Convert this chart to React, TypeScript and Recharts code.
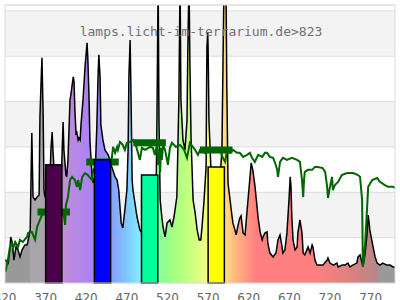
import React from 'react';
import {
  ComposedChart,
  Area,
  Line,
  XAxis,
  YAxis,
  CartesianGrid,
  ReferenceArea,
  ReferenceLine,
} from 'recharts';

// Lamp emission spectrum: [wavelength nm, relative intensity]
const spectrumPoints: [number, number][] = [
  [320, 9.3], [321, 10.1], [324, 8.8], [326, 14.6], [327, 20.3], [329, 17.6], [331, 10.1], [333.5, 15.9],
  [336, 14.6], [338.5, 11.5], [341, 14.6], [344.5, 16.8], [347, 16.8], [348, 18.1], [351, 23.4], [352, 45.4],
  [353, 66.2], [354.5, 37.9], [357, 36.6], [359.5, 37.9], [362, 38.8], [363, 73.2], [364.5, 89.6], [365.5, 99.3],
  [367, 73.2], [368, 41], [369, 37.9], [372, 41], [375.5, 47.6], [376.5, 58.7], [378, 66.6], [379, 58.7],
  [381.5, 43.2], [385, 36.6], [388, 38.8], [390, 54.3], [391.5, 71], [392.5, 58.7], [395, 47.6], [396, 46.8],
  [397.5, 54.3], [400, 80.7], [401, 82.9], [404, 90.9], [405, 88.7], [406, 76.3], [407.5, 65.3], [408.5, 66.2],
  [410, 63.1], [411, 64], [412.5, 63.1], [413.5, 69.7], [416, 80.7], [418.5, 95.3], [421, 105.9], [422, 98.4],
  [423.5, 80.7], [424.5, 63.1], [427, 47.6], [428.5, 44.1], [431, 47.6], [432, 58.7], [433, 68.8], [434.5, 90.9],
  [435.5, 100.6], [437, 90.9], [438, 69.7], [440.5, 63.1], [443, 58.7], [447, 56.5], [449, 54.3], [451.5, 51.2],
  [455.5, 46.8], [458, 45.4], [460, 41], [461.5, 33.5], [463, 26.5], [465, 24.3], [467.5, 32.2], [470, 41],
  [471.5, 58.7], [472.5, 90.9], [474, 107.2], [475, 85.2], [476.5, 45.4], [477.5, 41], [482.5, 29.1], [486, 23.4],
  [490, 21.2], [495, 25.6], [498.5, 30], [502, 32.2], [506, 41], [507, 71.9], [508.5, 133.7], [509.5, 71.9],
  [511, 36.6], [513, 29.1], [514.5, 24.7], [517, 20.3], [519.5, 26.5], [523, 27.8], [525.5, 24.7], [528, 29.1],
  [531.5, 37.9], [534, 80.7], [535.5, 133.7], [536.5, 80.7], [539, 63.1], [541.5, 58.7], [544, 71.9], [545, 102.8],
  [546.5, 133.7], [547.5, 98.4], [549, 63.1], [550, 52.9], [551.5, 36.6], [554, 30.9], [556.5, 23.4], [559, 19],
  [561, 19], [562.5, 24.7], [565, 36.6], [567.5, 51.2], [568, 80.7], [568.5, 103.7], [569.5, 110.3], [570, 103.7],
  [571, 71.9], [573.5, 49.9], [578.5, 43.2], [584.5, 45.4], [587, 58.7], [588.5, 102.8], [589.5, 130], [591, 138],
  [592, 130], [593, 86.5], [594.5, 44.1], [597, 36.6], [599.5, 29.1], [600.5, 26.5], [603, 23.4], [604.5, 21.2],
  [607, 25.6], [609, 28.7], [610.5, 29.6], [613, 22.1], [615.5, 21.2], [618, 32.2], [620.5, 42.4], [623, 52.9],
  [625, 49.9], [627.5, 43.2], [630, 34.4], [631.5, 28.7], [634, 22.5], [636.5, 19], [637.5, 20.3], [640, 22.1],
  [642.5, 22.5], [643.5, 17.6], [646, 13.2], [650, 11.5], [653.5, 13.2], [656, 19], [658.5, 21.2], [661, 15.9],
  [662, 13.2], [664.5, 14.6], [667, 22.1], [669.5, 36.6], [671, 46.8], [672, 42.4], [673, 29.1], [674.5, 19],
  [677, 14.6], [679.5, 15.9], [680.5, 22.1], [683, 27.8], [685.5, 22.1], [687, 13.2], [689, 12.4], [691.5, 14.6],
  [693, 15.9], [695.5, 13.2], [698, 16.8], [699, 15.9], [701.5, 10.1], [704, 7.9], [708, 7.9], [711.5, 7.9],
  [716.5, 10.1], [717.5, 11], [720, 8.8], [724, 7.9], [728.5, 8.8], [730, 7.1], [735, 7.9], [738.5, 7.9],
  [742, 8.8], [744.5, 7.1], [748, 7.9], [753, 8.8], [754.5, 11.5], [757, 12.4], [759.5, 8.8], [760.5, 7.1],
  [763, 12.4], [765.5, 21.2], [767, 30], [768, 26.9], [769, 23.4], [773, 15.9], [775.5, 11.5], [778, 8.8],
  [781.5, 7.9], [785, 8.8], [790, 7.9], [794, 7.9], [797.5, 7.1], [800, 7.1],
];

// Reference (daylight) curve: [wavelength nm, relative value]
const referencePoints: [number, number][] = [
  [320, 4.9], [321, 5.7], [323.5, 10.1], [326, 15.9], [328.5, 17.6], [330, 15.4], [332.5, 18.1], [336, 15.9],
  [338.5, 19], [342, 18.1], [347, 20.3], [348.5, 22.1], [353, 22.5], [354.5, 21.2], [357, 19], [359.5, 24.7],
  [363, 27.8], [365.5, 30], [369, 31.3], [375.5, 27.8], [381.5, 25.6], [387.5, 26.9], [391.5, 32.2], [394, 25.6],
  [395, 34.4], [397.5, 37.9], [400, 45.4], [402.5, 46.8], [406, 45.4], [408.5, 42.4], [410, 45.4], [412.5, 41],
  [415, 46.8], [418.5, 48.5], [422, 47.6], [427, 45.4], [428.5, 49.9], [434.5, 52.1], [443, 53.4], [449, 54.3],
  [451.5, 55.2], [453, 60], [455.5, 57.4], [458, 60], [459, 58.7], [461.5, 62.2], [465, 60.9], [467.5, 58.7],
  [470, 61.8], [474, 62.2], [477.5, 63.1], [481, 60.9], [486, 54.3], [488.5, 59.6], [492.5, 58.7], [498.5, 60],
  [502, 59.6], [504.5, 56.5], [507, 60.9], [508.5, 52.1], [509.5, 58.7], [511, 49], [512, 59.6], [513, 54.3],
  [514.5, 60.9], [517, 58.7], [520.5, 52.1], [523, 59.6], [525.5, 61.8], [530.5, 60], [535.5, 60.9], [540.5, 58.7],
  [544, 55.2], [547.5, 61.8], [554, 58.7], [557.5, 56.5], [560, 58.7], [566, 57.4], [572.5, 58.7], [578.5, 57.8],
  [584.5, 58.7], [588, 55.2], [591, 53.4], [593, 57.8], [597, 57.4], [600.5, 58.7], [605.5, 57.4], [609, 57.4],
  [613, 55.6], [618, 56.5], [621.5, 57.4], [624, 55.2], [627.5, 53.4], [631.5, 56.5], [636.5, 55.6], [640, 57.4],
  [642.5, 57.4], [646, 55.6], [650, 55.2], [652.5, 52.9], [655, 49.9], [656, 46.8], [658.5, 53.4], [662, 55.2],
  [667, 54.3], [673, 55.2], [679.5, 54.3], [683, 53.4], [685.5, 45.4], [687, 37.9], [688, 45.4], [689, 49],
  [693, 49.9], [698, 49.9], [701.5, 51.2], [705, 51.2], [711, 50.7], [714, 49], [716.5, 42.4], [717.5, 37.5],
  [720, 42.4], [722.5, 46.8], [723.5, 41], [726, 43.2], [730, 44.6], [734.5, 47.6], [741, 48.5], [748.5, 48.5],
  [754.5, 47.6], [757, 46.8], [759.5, 36.6], [760.5, 7.1], [763, 15.9], [765.5, 32.2], [767, 42.4], [772, 45.4],
  [778, 46.3], [781.5, 44.6], [787.5, 43.2], [791.5, 42.4], [797.5, 42.4], [800, 41.9],
];

// Band bars (nm ranges) and their values
const barStart = [370, 430, 488, 570];
const barEnd = [390, 450, 508, 590];
const barValue = [52.1, 54.3, 47.6, 51.2];

// Reference-curve band averages
const bandStart = [360, 420, 478, 560];
const bandEnd = [400, 460, 518, 600];
const bandValue = [31.3, 53.4, 61.8, 58.7];

const xTicks = [320, 370, 420, 470, 520, 570, 620, 670, 720, 770];
const yTicks = [0, 20, 40, 60, 80, 100, 120];
// shaded horizontal bands between grid lines
const shadedFrom = [20, 60, 100];
const shadedTo = [40, 80, 120];

const barColors = ['#4a0048', '#0000ff', '#00ff9c', '#ffff00'];
const gradientStops: [number, string][] = [
  [320, '#999999'], [350.5, '#999999'], [351, '#aaa5aa'], [381, '#aaa3ae'], [392, '#c090d4'],
  [405, '#b888e4'], [425, '#ac82f4'], [438, '#9c88ff'], [452, '#8aa0ff'], [467, '#80c0ff'],
  [482, '#80e4ff'], [492, '#80fff0'], [503, '#80ffb8'], [515, '#90ff90'], [535, '#b0ff80'],
  [556, '#d8ff80'], [574, '#ffff80'], [590, '#ffe080'], [600, '#ffc080'], [614, '#ffa080'],
  [628, '#ff8080'], [702, '#ff8080'], [742, '#e08080'], [779, '#b48888'], [779.5, '#999999'],
  [800, '#999999'],
];

const spectrumData = spectrumPoints.map(([nm, v]) => ({ nm, v }));
const referenceData = referencePoints.map(([nm, v]) => ({ nm, v }));

const X_MIN = 320;
const X_MAX = 800;
const Y_MAX = 122.6;

export default function App() {
  return (
    <div style={{ position: 'absolute', left: 0, top: 0, width: 400, height: 300 }}>
      <ComposedChart
        width={400}
        height={300}
        margin={{ top: 5, right: 5, bottom: 0, left: 5 }}
      >
        <defs>
          <linearGradient id="specGrad" x1="0" y1="0" x2="1" y2="0">
            {gradientStops.map(([nm, c], i) => (
              <stop key={i} offset={(nm - X_MIN) / (X_MAX - X_MIN)} stopColor={c} />
            ))}
          </linearGradient>
        </defs>
        {shadedFrom.map((f, i) => (
          <ReferenceArea
            key={'shade' + i}
            x1={X_MIN}
            x2={X_MAX}
            y1={f}
            y2={shadedTo[i]}
            fill="#f3f3f3"
            fillOpacity={1}
            stroke="none"
            zIndex={-110}
          />
        ))}
        <CartesianGrid vertical={false} stroke="#dddddd" />
        <XAxis
          type="number"
          dataKey="nm"
          domain={[X_MIN, X_MAX]}
          ticks={xTicks}
          interval={0}
          allowDataOverflow
          tickLine={false}
          axisLine={false}
          tickSize={0}
          tickMargin={10}
          height={17}
          tick={{ fontSize: 12, fill: '#666666', fontFamily: 'DejaVu Sans' }}
        />
        <YAxis type="number" hide domain={[0, Y_MAX]} ticks={yTicks} allowDataOverflow />
        <Area
          data={spectrumData}
          dataKey="v"
          type="linear"
          stroke="#000000"
          strokeWidth={1.5}
          fill="url(#specGrad)"
          fillOpacity={1}
          dot={false}
          activeDot={false}
          isAnimationActive={false}
        />
        <Line
          data={referenceData}
          dataKey="v"
          type="linear"
          stroke="#006600"
          strokeWidth={2}
          dot={false}
          activeDot={false}
          isAnimationActive={false}
        />
        {bandStart.map((s, i) => (
          <ReferenceLine
            key={'band' + i}
            segment={[{ x: s, y: bandValue[i] }, { x: bandEnd[i], y: bandValue[i] }]}
            stroke="#006600"
            strokeWidth={7}
            zIndex={450}
          />
        ))}
        {barStart.map((s, i) => (
          <ReferenceArea
            key={'bar' + i}
            x1={s}
            x2={barEnd[i]}
            y1={0}
            y2={barValue[i]}
            fill={barColors[i]}
            fillOpacity={1}
            stroke="#000000"
            strokeWidth={1.5}
            zIndex={460}
          />
        ))}
        <ReferenceArea
          x1={X_MIN}
          x2={X_MAX}
          y1={0}
          y2={Y_MAX}
          fill="none"
          fillOpacity={0}
          stroke="#dddddd"
          strokeWidth={1}
          zIndex={470}
        />
      </ComposedChart>
      <div
        style={{
          position: 'absolute',
          left: 0,
          top: 24,
          width: 402,
          textAlign: 'center',
          fontFamily: '"DejaVu Sans Mono", monospace',
          fontSize: 13,
          lineHeight: '15px',
          color: '#707070',
          whiteSpace: 'nowrap',
        }}
      >
        lamps.licht-im-terrarium.de&gt;823
      </div>
    </div>
  );
}
